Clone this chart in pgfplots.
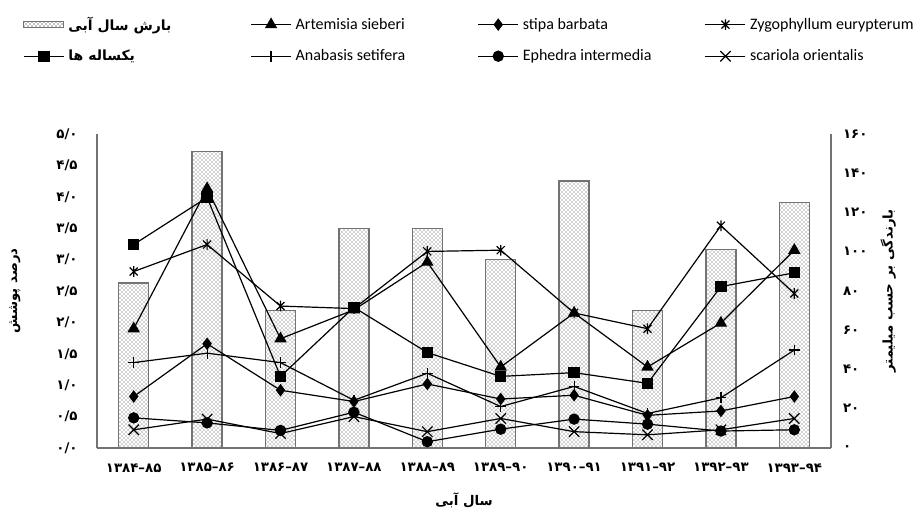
\documentclass[border=0pt]{standalone}
\usepackage{fontspec}
\setmainfont{Carlito}
\newfontfamily\fa[Script=Arabic]{DejaVu Sans}
\TeXXeTstate=1
\usepackage{pgfplots}
\usepackage{pgfplotstable}
\pgfplotsset{compat=1.18}
\usetikzlibrary{patterns}

% Excel-like star: a cross with a vertical stroke
\pgfdeclareplotmark{xstar}{%
  \pgfpathmoveto{\pgfqpoint{-.75\pgfplotmarksize}{-.75\pgfplotmarksize}}%
  \pgfpathlineto{\pgfqpoint{.75\pgfplotmarksize}{.75\pgfplotmarksize}}%
  \pgfpathmoveto{\pgfqpoint{-.75\pgfplotmarksize}{.75\pgfplotmarksize}}%
  \pgfpathlineto{\pgfqpoint{.75\pgfplotmarksize}{-.75\pgfplotmarksize}}%
  \pgfpathmoveto{\pgfqpoint{0pt}{-\pgfplotmarksize}}%
  \pgfpathlineto{\pgfqpoint{0pt}{\pgfplotmarksize}}%
  \pgfusepathqstroke}

% fixed-width legend text, so the four columns are evenly spaced
\newcommand{\legtxt}[1]{\makebox[135.5pt][l]{#1}}
\newcommand{\legfa}[1]{\makebox[135.5pt][l]{\fa\bfseries\fontsize{10.5}{12}\selectfont\beginR #1\endR}}

% rainfall of each water year (mm, right axis)
\pgfplotstableread{
x rain
0 84
1 151
2 70
3 112
4 112
5 96
6 136
7 70
8 101
9 125
}\rain

% cover percentage (left axis)
\pgfplotstableread{
x art sti zyg ann ana eph sca
0 1.90 0.82 2.81 3.24 1.36 0.48 0.29
1 4.13 1.66 3.24 3.99 1.51 0.40 0.46
2 1.74 0.92 2.26 1.14 1.36 0.28 0.23
3 2.20 0.74 2.22 2.24 0.76 0.57 0.50
4 2.96 1.02 3.13 1.52 1.19 0.10 0.26
5 1.29 0.78 3.15 1.14 0.66 0.30 0.47
6 2.15 0.84 2.15 1.20 0.98 0.46 0.26
7 1.29 0.52 1.90 1.03 0.55 0.38 0.21
8 1.99 0.59 3.54 2.57 0.80 0.27 0.29
9 3.15 0.82 2.46 2.79 1.56 0.29 0.47
}\cover

\pgfplotsset{
  base/.style={
    scale only axis, width=550.5pt, height=235.5pt,
    at={(0,0)}, anchor=south west,
    xmin=-0.5, xmax=9.5,
    major tick length=0pt,
    axis line style={draw=black!55, line width=0.9pt},
    ticklabel style={font=\fa\bfseries\fontsize{10}{12}\selectfont},
    label style={font=\fa\bfseries\fontsize{10}{12}\selectfont},
    clip=false,
  },
  ln/.style={black, line width=0.9pt},
}

\begin{document}
\begin{tikzpicture}
\useasboundingbox (-72.75pt,-46.5pt) rectangle (615pt,336pt);

% bars, right axis
\begin{axis}[base,
  ymin=0, ymax=160,
  axis y line*=right, axis x line=none,
  ytick={0,20,40,60,80,100,120,140,160},
  yticklabels={۰,۲۰,۴۰,۶۰,۸۰,۱۰۰,۱۲۰,۱۴۰,۱۶۰},
  yticklabel style={xshift=5.5pt},
  ylabel={\beginR بارندگی بر حسب میلیمتر\endR},
  ylabel style={at={(axis description cs:1.078,0.5)}, anchor=center},
]
\addplot[ybar, bar width=22.5pt, draw=black!55, line width=1pt,
  pattern=crosshatch dots, pattern color=black!75]
  table[x=x, y=rain]{\rain};
\end{axis}

% cover lines, left axis
\begin{axis}[base,
  ymin=0, ymax=5,
  axis y line*=left, axis x line*=bottom,
  xtick={0,1,2,3,4,5,6,7,8,9},
  % the Arabic run reorders the two groups, so they are typed reversed
  xticklabels={۸۵–۱۳۸۴,۸۶–۱۳۸۵,۸۷–۱۳۸۶,۸۸–۱۳۸۷,۸۹–۱۳۸۸,۹۰–۱۳۸۹,۹۱–۱۳۹۰,۹۲–۱۳۹۱,۹۳–۱۳۹۲,۹۴–۱۳۹۳},
  xticklabel style={yshift=-8pt},
  ytick={0,0.5,1,1.5,2,2.5,3,3.5,4,4.5,5},
  yticklabels={۰/۰,۰/۵,۱/۰,۱/۵,۲/۰,۲/۵,۳/۰,۳/۵,۴/۰,۴/۵,۵/۰},
  yticklabel style={xshift=-11pt},
  ylabel={\beginR درصد پوشش\endR},
  ylabel style={at={(axis description cs:-0.112,0.5)}, anchor=center},
  xlabel={\beginR سال آبی\endR},
  xlabel style={at={(axis description cs:0.5,-0.166)}, anchor=center},
  legend columns=4,
  legend cell align=left,
  legend image code/.code={\draw[mark repeat=2, mark phase=2, #1]
    plot coordinates {(0pt,0pt) (15pt,0pt) (30pt,0pt)};},
  legend style={at={(axis description cs:0,1)}, anchor=north west,
    xshift=-55.5pt, yshift=89pt, draw=none, fill=none, inner sep=0pt,
    row sep=11pt, column sep=0pt,
    /tikz/every odd column/.append style={column sep=2pt},
    nodes={inner sep=1pt, font=\fontsize{12}{14}\selectfont}},
]
\addlegendimage{legend image code/.code={\draw[draw=black!55, line width=0.8pt,
  pattern=crosshatch dots] (0pt,-2.5pt) rectangle (30pt,2.5pt);}}
\addlegendentry{\legfa{بارش سال آبی}}
\addplot[ln, mark=triangle*, mark size=4.5pt] table[x=x, y=art]{\cover};
\addlegendentry{\legtxt{Artemisia sieberi}}
\addplot[ln, mark=diamond*, mark size=4pt] table[x=x, y=sti]{\cover};
\addlegendentry{\legtxt{stipa barbata}}
\addplot[ln, mark=xstar, mark size=4pt] table[x=x, y=zyg]{\cover};
\addlegendentry{\legtxt{Zygophyllum eurypterum}}
\addplot[ln, mark=square*, mark size=3.8pt] table[x=x, y=ann]{\cover};
\addlegendentry{\legfa{یکساله ها}}
\addplot[ln, mark=+, mark size=4pt] table[x=x, y=ana]{\cover};
\addlegendentry{\legtxt{Anabasis setifera}}
\addplot[ln, mark=*, mark size=3.8pt] table[x=x, y=eph]{\cover};
\addlegendentry{\legtxt{Ephedra intermedia}}
\addplot[ln, mark=x, mark size=5.5pt] table[x=x, y=sca]{\cover};
\addlegendentry{\legtxt{scariola orientalis}}
\end{axis}
\end{tikzpicture}
\end{document}
